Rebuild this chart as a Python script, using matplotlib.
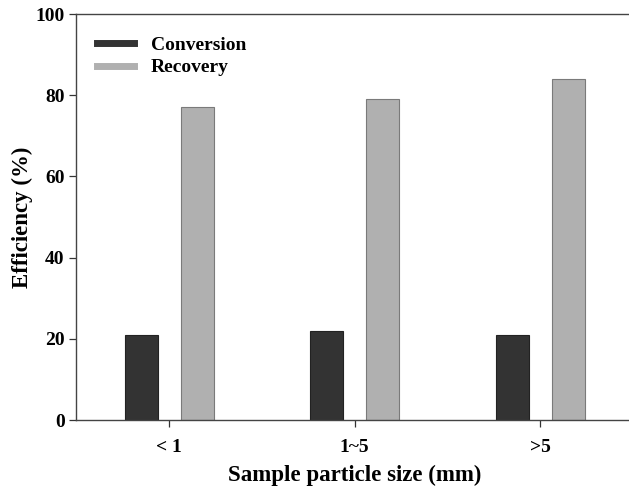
import numpy as np
import matplotlib.pyplot as plt
from matplotlib.lines import Line2D

# particle size classes and efficiencies (%)
sizes = ['< 1', '1~5', '>5']
conversion = [21, 22, 21]
recovery = [77, 79, 84]

plt.rcParams['font.family'] = ['Liberation Serif', 'DejaVu Serif']
plt.rcParams['font.weight'] = 'bold'

fig = plt.figure(figsize=(6.29, 4.88), dpi=100)
ax = fig.add_axes([0.1216, 0.1393, 0.8844, 0.832])

x = np.arange(len(sizes))
w = 0.178
off = 0.151
ax.bar(x - off, conversion, w, color='#333333', edgecolor='#222222', linewidth=0.8)
ax.bar(x + off, recovery, w, color='#b0b0b0', edgecolor='#7a7a7a', linewidth=0.8)

ax.set_xlim(-0.5, 2.5)
ax.set_ylim(0, 100)
ax.set_yticks([0, 20, 40, 60, 80, 100])
ax.set_xticks(x)
ax.set_xticklabels(sizes)
ax.tick_params(axis='both', direction='out', length=5, width=0.9, labelsize=14, colors='#333333', labelcolor='black')
ax.tick_params(axis='x', pad=9)
for lbl in ax.get_xticklabels() + ax.get_yticklabels():
    lbl.set_fontweight('bold')
for s in ax.spines.values():
    s.set_color('#444444')
    s.set_linewidth(1.0)

ax.set_xlabel('Sample particle size (mm)', fontsize=16.5, fontweight='bold', labelpad=6)
ax.set_ylabel('Efficiency (%)', fontsize=16.5, fontweight='bold', labelpad=2)

handles = [Line2D([0], [0], color='#333333', lw=5),
           Line2D([0], [0], color='#b0b0b0', lw=5)]
ax.legend(handles, ['Conversion', 'Recovery'], loc='upper left', bbox_to_anchor=(0.006, 0.988),
          frameon=False, prop={'size': 14, 'weight': 'bold'}, handlelength=1.9,
          handletextpad=0.85, labelspacing=0.25)

fig.savefig('out.png', dpi=100)
